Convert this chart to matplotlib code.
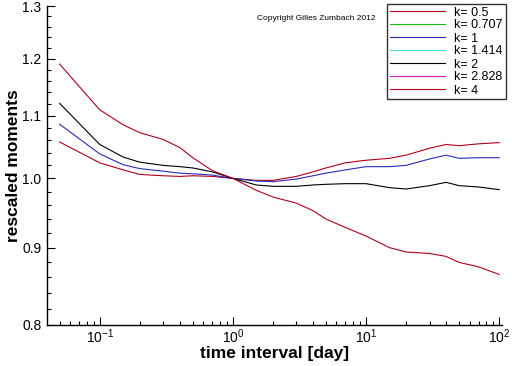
import numpy as np
import matplotlib
matplotlib.use("Agg")
import matplotlib.pyplot as plt
from matplotlib.lines import Line2D
from matplotlib.ticker import FixedLocator, NullFormatter, FixedFormatter

plt.rcParams['font.family'] = ['Liberation Sans', 'DejaVu Sans']
plt.rcParams['mathtext.fontset'] = 'custom'
plt.rcParams['mathtext.rm'] = 'Liberation Sans'

# time intervals [day]
x_days = [0.05, 0.1, 0.15, 0.2, 0.3, 0.4, 0.5, 0.7, 1, 1.5, 2, 3, 4, 5, 7,
          10, 15, 20, 30, 40, 50, 70, 100]

# rescaled moments
k05 = [1.057, 1.024, 1.013, 1.006, 1.004, 1.003, 1.004, 1.003, 1.000, 0.997,
       0.997, 1.003, 1.010, 1.016, 1.024, 1.028, 1.031, 1.036, 1.047, 1.053,
       1.051, 1.054, 1.056]
k1 = [1.086, 1.038, 1.021, 1.015, 1.011, 1.008, 1.007, 1.005, 1.000, 0.996,
      0.995, 0.999, 1.004, 1.008, 1.013, 1.018, 1.018, 1.020, 1.030, 1.036,
      1.031, 1.032, 1.032]
k2 = [1.121, 1.053, 1.033, 1.025, 1.020, 1.018, 1.016, 1.010, 1.000, 0.990,
      0.988, 0.988, 0.990, 0.991, 0.992, 0.992, 0.986, 0.984, 0.989, 0.994,
      0.989, 0.987, 0.983]
k4 = [1.190, 1.110, 1.085, 1.072, 1.061, 1.048, 1.032, 1.012, 1.000, 0.982,
      0.972, 0.963, 0.952, 0.940, 0.928, 0.916, 0.900, 0.894, 0.892, 0.888,
      0.880, 0.874, 0.864]

legend_labels = ["k= 0.5", "k= 0.707", "k= 1", "k= 1.414", "k= 2", "k= 2.828", "k= 4"]
legend_colors = ["#b0001e", "#10c010", "#2a2ab4", "#40e0e0", "black", "#d020c0", "#b0001e"]

y_ticks = [0.8, 0.9, 1.0, 1.1, 1.2, 1.3]

fig = plt.figure(figsize=(5.12, 3.66), dpi=100)
ax = fig.add_axes([47/512, 1 - 325/366, (502 - 47)/512, (325 - 6)/366])

ax.plot(x_days, k05, color=legend_colors[0], lw=0.8)
ax.plot(x_days, k1, color=legend_colors[2], lw=0.8)
ax.plot(x_days, k2, color=legend_colors[4], lw=0.8)
ax.plot(x_days, k4, color=legend_colors[6], lw=0.8)

ax.set_xscale('log')
ax.set_yscale('log')
ax.set_xlim(0.0402, 105)
ax.set_ylim(0.8, 1.3)

ax.yaxis.set_major_locator(FixedLocator(y_ticks))
ax.yaxis.set_major_formatter(FixedFormatter([f"{v:.1f}" for v in y_ticks]))
ax.yaxis.set_minor_locator(FixedLocator(np.arange(0.82, 1.30, 0.02)))
ax.yaxis.set_minor_formatter(NullFormatter())

for s in ['top', 'right']:
    ax.spines[s].set_visible(False)
for s in ['left', 'bottom']:
    ax.spines[s].set_linewidth(1.0)

ax.tick_params(which='both', direction='in', labelsize=10, width=0.8)
ax.tick_params(axis='x', which='both', pad=2)
ax.tick_params(axis='y', which='both', pad=4)
ax.tick_params(which='major', length=6)
ax.tick_params(which='minor', length=3)

ax.set_xlabel("time interval [day]", fontsize=12.5, fontweight='bold', labelpad=0)
ax.set_ylabel("rescaled moments", fontsize=12.5, fontweight='bold', labelpad=1)

handles = [Line2D([0], [0], color=c, lw=0.8) for c in legend_colors]
fig.legend(handles, legend_labels, loc='upper left',
           bbox_to_anchor=(387/512, 1 - 4/366), fontsize=9,
           frameon=True, fancybox=False, edgecolor='black',
           handlelength=4.4, handletextpad=0.8, labelspacing=0.08,
           borderpad=0.2, borderaxespad=0)
fig.legends[0].get_frame().set_linewidth(1.0)

fig.text(257/512, 1 - 18/366, "Copyright Gilles Zumbach 2012", fontsize=6,
         va='center', ha='left')

fig.savefig("out.png", dpi=100)
